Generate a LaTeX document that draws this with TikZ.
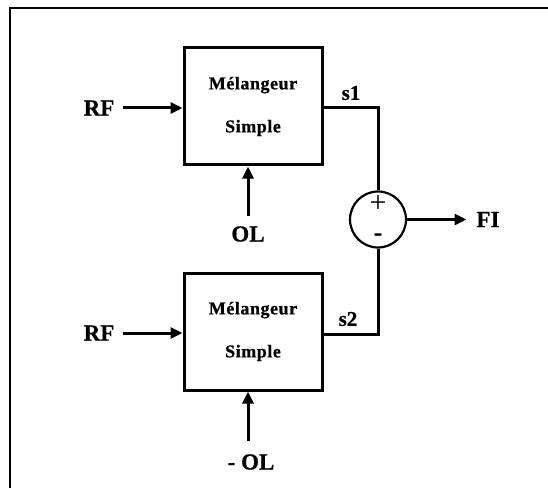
\documentclass[tikz,border=0pt]{standalone}
\usepackage{fontspec}
\setmainfont{Liberation Serif}[BoldFeatures={FakeBold=0.8}]
\usetikzlibrary{arrows.meta,calc}
\tikzset{
  box/.style={draw, line width=3pt, minimum width=138pt, minimum height=117pt, inner sep=0pt, align=center,
    font=\bfseries\fontsize{18}{21}\selectfont\addfontfeature{LetterSpace=3}},
  sumnode/.style={draw, circle, line width=2.2pt, minimum size=56pt, inner sep=0pt},
  term/.style={inner sep=0pt, outer sep=0pt, font=\bfseries\fontsize{23}{27}\selectfont},
  sig/.style={inner sep=0pt, font=\bfseries\fontsize{21}{25}\selectfont},
  sgn/.style={inner sep=0pt, font=\fontsize{30}{34}\selectfont},
  wire/.style={line width=3pt},
  arr/.style={line width=3pt, -{Triangle[length=12pt,width=11pt]}},
  frameline/.style={line width=1.6pt}
}
\begin{document}
\begin{tikzpicture}[x=1pt,y=1pt]
\useasboundingbox (0,0) rectangle (548,488);
\draw[frameline] (10,0) -- (10,480) -- (548,480);

\node[box] (box1) at (253,381.5) {M\'elangeur\\[22pt]Simple};
\node[box] (box2) at (253,156.5) {M\'elangeur\\[22pt]Simple};
\node[sumnode] (sum) at (378,268.5) {};
\node[sgn] (plus) at (378,284) {+};
\node[sgn,font=\bfseries\fontsize{26}{30}\selectfont] (minus) at (378,251) {-};

\node[term] (rf1) at (99,380) {RF};
\node[term] (rf2) at (99,155) {RF};
\node[term] (ol1) at (248,254) {OL};
\node[term] (ol2) at (251,26) {- OL};
\node[term] (fi) at (488,268.5) {FI};
\node[sig] (s1) at (351,395) {s1};
\node[sig] (s2) at (348,169) {s2};

\draw[arr] ([xshift=9pt]rf1.east) -- (rf1.east -| box1.west);
\draw[arr] ([xshift=9pt]rf2.east) -- (rf2.east -| box2.west);
\draw[arr] ([yshift=10pt]ol1.north) -- (ol1.north |- box1.south);
\coordinate (ol2a) at ([shift={(-3pt,13pt)}]ol2.north);
\draw[arr] (ol2a) -- (ol2a |- box2.south);
\draw[wire] (rf1 -| box1.east) -| (sum.north);
\draw[wire] ([yshift=-1pt]rf2 -| box2.east) -| (sum.south);
\draw[arr] (sum.east) -- ([xshift=-10pt]fi.west);
\end{tikzpicture}
\end{document}
